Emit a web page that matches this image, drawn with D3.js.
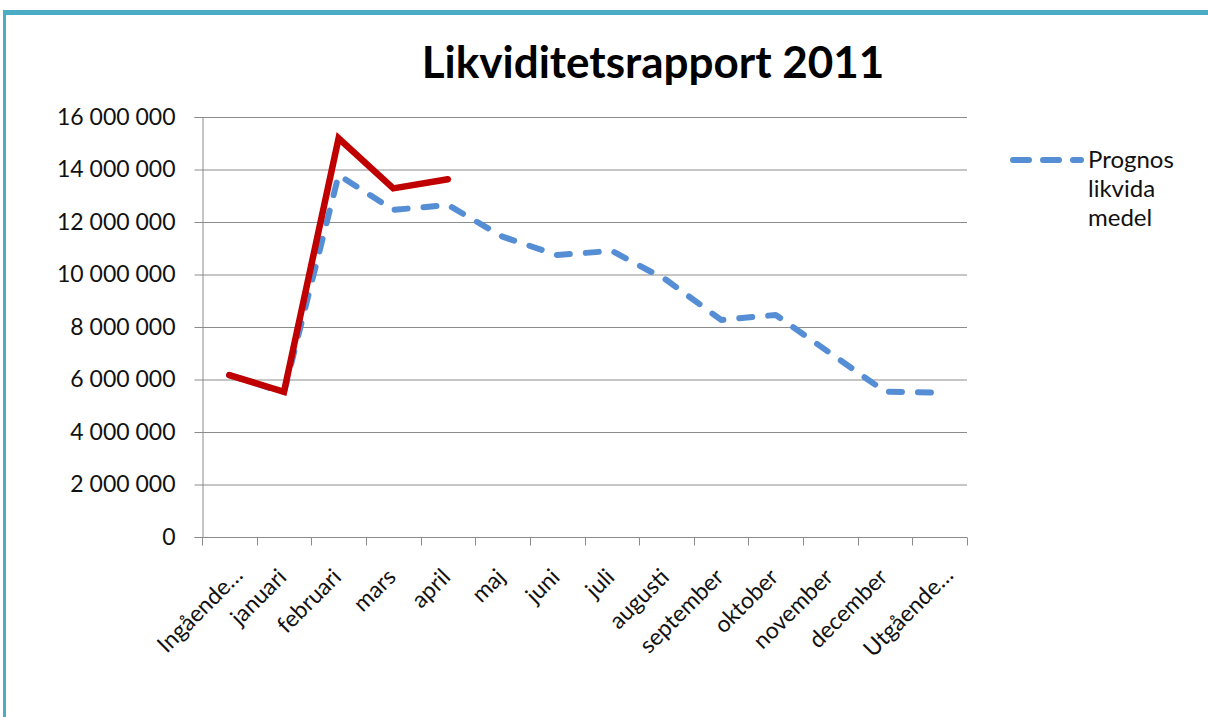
<!DOCTYPE html>
<html>
<head>
<meta charset="utf-8">
<script src="https://cdn.jsdelivr.net/npm/d3@7"></script>
<style>
  body { margin: 0; background: #fff; }
  svg { display: block; font-family: Lato, "Open Sans", sans-serif; }
</style>
</head>
<body>
<div id="chart"></div>
<script>
// Data
const months = ["Ingående…", "januari", "februari", "mars", "april", "maj", "juni",
  "juli", "augusti", "september", "oktober", "november", "december", "Utgående…"];
const prognos = [6170000, 5500000, 13790000, 12460000, 12650000, 11440000, 10740000,
  10900000, 9790000, 8270000, 8460000, 7000000, 5540000, 5500000];
const utfall = [6170000, 5530000, 15190000, 13280000, 13630000];
const yTicks = [0, 2000000, 4000000, 6000000, 8000000, 10000000, 12000000, 14000000, 16000000];

const W = 1208, H = 717;
const margin = { top: 117, right: 241, bottom: 180, left: 202 },
      width = W - margin.left - margin.right,
      height = H - margin.top - margin.bottom;

const root = d3.select("#chart")
  .append("svg")
    .attr("width", W)
    .attr("height", H);

// teal frame (top and left edges visible)
root.append("rect").attr("x", 3).attr("y", 10).attr("width", W).attr("height", 5).attr("fill", "#4BACC6");
root.append("rect").attr("x", 3).attr("y", 10).attr("width", 3).attr("height", H).attr("fill", "#4BACC6");

root.append("text")
  .attr("x", 653).attr("y", 78)
  .attr("text-anchor", "middle")
  .style("font-size", "44px")
  .style("font-weight", "bold")
  .attr("fill", "#000")
  .text("Likviditetsrapport 2011");

const svg = root.append("g")
  .attr("transform", `translate(${margin.left},${margin.top})`);

const x = d3.scaleBand()
  .domain(months)
  .range([0, width]);

const y = d3.scaleLinear()
  .domain([0, 16000000])
  .range([height, 0]);

const fmt = v => d3.format(",")(v).replace(/,/g, " ");

// gridlines
svg.append("g")
  .selectAll("line")
  .data(yTicks.slice(1))
  .join("line")
    .attr("x1", 0).attr("x2", width)
    .attr("y1", d => y(d) + 0.5).attr("y2", d => y(d) + 0.5)
    .attr("stroke", "#8c8c8c");

// y axis
const yAxis = svg.append("g")
  .attr("transform", "translate(0.5,0)")
  .call(d3.axisLeft(y).tickValues(yTicks).tickFormat(fmt).tickSize(8).tickPadding(19));
yAxis.attr("font-family", null);
yAxis.select(".domain").attr("stroke", "#8c8c8c");
yAxis.selectAll(".tick line").attr("stroke", "#8c8c8c");
yAxis.selectAll(".tick text").style("font-size", "23px").attr("fill", "#111");

// x axis, ticks at category boundaries
const xAxis = svg.append("g")
  .attr("transform", `translate(0,${height + 0.5})`);
xAxis.append("line")
  .attr("x1", 0).attr("x2", width)
  .attr("stroke", "#8c8c8c");
xAxis.selectAll(".xt")
  .data(months.concat([null]))
  .join("line")
    .attr("class", "xt")
    .attr("x1", (d, i) => Math.round(i * x.step()) + 0.5)
    .attr("x2", (d, i) => Math.round(i * x.step()) + 0.5)
    .attr("y1", 0).attr("y2", 8)
    .attr("stroke", "#8c8c8c");
// truncated labels sit a bit further right, like in the original
xAxis.selectAll(".xl")
  .data(months)
  .join("text")
    .attr("class", "xl")
    .attr("transform", d => {
      const cut = d.endsWith("…");
      return `translate(${x(d) + x.bandwidth() / 2 + (cut ? 15 : 4)},${cut ? 39 : 41}) rotate(-45)`;
    })
    .attr("text-anchor", "end")
    .style("font-size", "23px")
    .attr("fill", "#111")
    .text(d => d);

const cx = (d, i) => x(months[i]) + x.bandwidth() / 2;

const line = d3.line()
  .x(cx)
  .y(d => y(d));

svg.append("path")
  .datum(prognos)
  .attr("fill", "none")
  .attr("stroke", "#558ED5")
  .attr("stroke-width", 6)
  .attr("stroke-linecap", "round")
  .attr("stroke-linejoin", "round")
  .attr("stroke-dasharray", "13,16")
  .attr("d", line);

svg.append("path")
  .datum(utfall)
  .attr("fill", "none")
  .attr("stroke", "#C00000")
  .attr("stroke-width", 6.5)
  .attr("stroke-linecap", "round")
  .attr("stroke-linejoin", "miter")
  .attr("d", line);

// legend
const legend = root.append("g")
  .attr("transform", "translate(1013,160)");
legend.append("line")
  .attr("x1", 0).attr("x2", 68)
  .attr("stroke", "#558ED5")
  .attr("stroke-width", 6)
  .attr("stroke-linecap", "round")
  .attr("stroke-dasharray", "16,14");
legend.selectAll("text")
  .data(["Prognos", "likvida", "medel"])
  .join("text")
    .attr("x", 75)
    .attr("y", (d, i) => 8 + i * 29)
    .style("font-size", "24px")
    .attr("fill", "#111")
    .text(d => d);
</script>
</body>
</html>
